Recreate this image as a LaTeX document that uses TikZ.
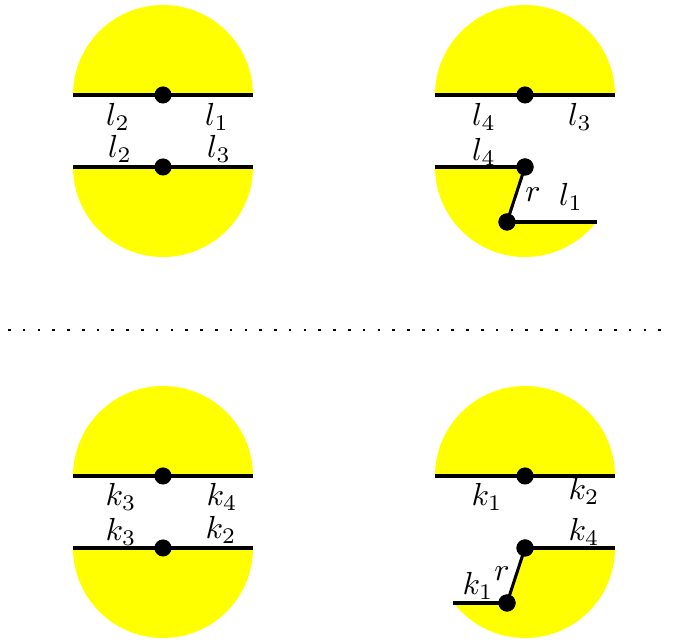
\documentclass[tikz,border=0pt]{standalone}
\usetikzlibrary{calc}
\definecolor{yel}{RGB}{255,255,0}
\begin{document}
\begin{tikzpicture}[x=0.345pt,y=0.345pt,
  dot/.style={circle,fill=black,inner sep=0pt,minimum size=5.9pt},
  seg/.style={line width=1.05pt,black},
  lab/.style={inner sep=0pt,scale=1.1},
  half/.style={fill=yel}]
\useasboundingbox (0,0) rectangle (676,644);
% ---------- top left ----------
\fill[half] (73,549) arc (180:0:90) -- cycle;
\fill[half] (73,477) arc (180:360:90) -- cycle;
\coordinate (tlA1) at (73,549); \coordinate (tlA2) at (253,549);
\coordinate (tlB1) at (73,477); \coordinate (tlB2) at (253,477);
\draw[seg] (tlA1) -- (tlA2);
\draw[seg] (tlB1) -- (tlB2);
\node[dot] (tlA) at (163,549) {};
\node[dot] (tlB) at (163,477) {};
\node[lab] (t1) at (118,527) {$l_2$};
\node[lab] (t2) at (217,527) {$l_1$};
\node[lab] (t3) at (120,495) {$l_2$};
\node[lab] (t4) at (219,495) {$l_3$};
% ---------- top right ----------
\fill[half] (435,549) arc (180:0:90) -- cycle;
\fill[half] (435,477) -- (525,477) -- (507,422) -- ([shift={(525,477)}]-37.76:90) arc (-37.76:-180:90) -- cycle;
\coordinate (trA1) at (435,549); \coordinate (trA2) at (615,549);
\coordinate (trB1) at (435,477);
\coordinate (trC2) at (597,422);
\draw[seg] (trA1) -- (trA2);
\node[dot] (trA) at (525,549) {};
\node[dot] (trB) at (525,477) {};
\node[dot] (trC) at (507,422) {};
\draw[seg] (trB1) -- (trB.center);
\draw[seg] (trB.center) -- (trC.center);
\draw[seg] (trC.center) -- (trC2);
\node[dot] at (trB) {};
\node[dot] at (trC) {};
\node[lab] (t5) at (484,527) {$l_4$};
\node[lab] (t6) at (580,527) {$l_3$};
\node[lab] (t7) at (484,492) {$l_4$};
\node[lab] (t8) at (533,449) {$r$};
\node[lab] (t9) at (571,447) {$l_1$};
% ---------- dotted separator ----------
\coordinate (sepL) at (8,314); \coordinate (sepR) at (670,314);
\draw[line width=0.9pt,dash pattern=on 0.9pt off 4.2pt] (sepL) -- (sepR);
% ---------- bottom left ----------
\fill[half] (73,168) arc (180:0:90) -- cycle;
\fill[half] (73,96) arc (180:360:90) -- cycle;
\coordinate (blA1) at (73,168); \coordinate (blA2) at (253,168);
\coordinate (blB1) at (73,96); \coordinate (blB2) at (253,96);
\draw[seg] (blA1) -- (blA2);
\draw[seg] (blB1) -- (blB2);
\node[dot] (blA) at (163,168) {};
\node[dot] (blB) at (163,96) {};
\node[lab] (b1) at (121,147) {$k_3$};
\node[lab] (b2) at (222,147) {$k_4$};
\node[lab] (b3) at (121,112) {$k_3$};
\node[lab] (b4) at (221,114) {$k_2$};
% ---------- bottom right ----------
\fill[half] (435,168) arc (180:0:90) -- cycle;
\fill[half] (525,96) -- (615,96) arc (0:-142.24:90) -- (507,41) -- cycle;
\coordinate (brA1) at (435,168); \coordinate (brA2) at (615,168);
\coordinate (brB2) at (615,96);
\coordinate (brC1) at (453,41);
\draw[seg] (brA1) -- (brA2);
\node[dot] (brA) at (525,168) {};
\node[dot] (brB) at (525,96) {};
\node[dot] (brC) at (507,41) {};
\draw[seg] (brB.center) -- (brB2);
\draw[seg] (brB.center) -- (brC.center);
\draw[seg] (brC1) -- (brC.center);
\node[dot] at (brB) {};
\node[dot] at (brC) {};
\node[lab] (b5) at (487,147) {$k_1$};
\node[lab] (b6) at (584,153) {$k_2$};
\node[lab] (b7) at (584,112) {$k_4$};
\node[lab] (b8) at (502,70) {$r$};
\node[lab] (b9) at (478,58) {$k_1$};
\end{tikzpicture}
\end{document}
